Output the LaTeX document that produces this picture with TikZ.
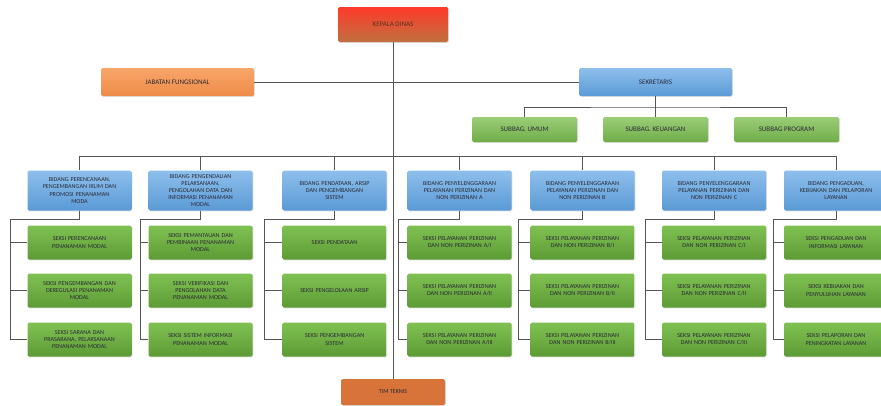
\documentclass[tikz,border=0pt]{standalone}
\usepackage{fontspec}
\setmainfont{Carlito}
\usetikzlibrary{shadows}

\definecolor{kdtop}{HTML}{FF3A2A}
\definecolor{kdbot}{HTML}{C0703F}
\definecolor{jftop}{HTML}{F9A66A}
\definecolor{jfbot}{HTML}{EE8B48}
\definecolor{bltop}{HTML}{8EBFEC}
\definecolor{blbot}{HTML}{5A9AD6}
\definecolor{sgtop}{HTML}{9CCD78}
\definecolor{sgbot}{HTML}{6FAD48}
\definecolor{gntop}{HTML}{80C152}
\definecolor{gnbot}{HTML}{5C9B35}
\definecolor{timfill}{HTML}{D8743A}
\definecolor{linegray}{HTML}{555555}
\definecolor{txtgray}{HTML}{2A2A36}

\tikzset{
  box/.style={rounded corners=1.5pt, align=center, inner sep=1pt,
    text=txtgray, font=\fontsize{6.1}{7.2}\selectfont,
    drop shadow={opacity=0.25, shadow xshift=0.8pt, shadow yshift=-0.8pt}},
  kepala/.style={box, top color=kdtop, bottom color=kdbot,
    minimum width=110pt, minimum height=35pt, text=kdbot!45!black,
    font=\fontsize{7}{8}\selectfont},
  fungsional/.style={box, top color=jftop, bottom color=jfbot,
    minimum width=153pt, minimum height=28pt, font=\fontsize{7}{8}\selectfont},
  sekbox/.style={box, top color=bltop, bottom color=blbot,
    minimum width=153pt, minimum height=28pt, font=\fontsize{7}{8}\selectfont},
  subbag/.style={box, top color=sgtop, bottom color=sgbot,
    minimum width=105pt, minimum height=25pt, font=\fontsize{7}{8}\selectfont},
  bidang/.style={box, top color=bltop, bottom color=blbot,
    minimum width=104pt, minimum height=40pt, text width=100pt},
  seksi/.style={box, top color=gntop, bottom color=gnbot,
    minimum width=104pt, minimum height=34pt, text width=100pt},
  timbox/.style={box, fill=timfill, minimum width=104pt, minimum height=26pt},
  link/.style={draw=linegray, line width=0.7pt}
}

\begin{document}
\begin{tikzpicture}[x=1pt, y=-1pt]
\useasboundingbox[fill=white] (0,0) rectangle (881,405);

% pimpinan
\node[kepala] (kd) at (393, 24.5) {KEPALA DINAS};
\node[fungsional] (jf) at (177.5, 82) {JABATAN FUNGSIONAL};
\node[sekbox] (sek) at (655.5, 82) {SEKRETARIS};

\node[subbag] (su) at (524.5, 129.5) {SUBBAG. UMUM};
\node[subbag] (sk) at (655.5, 129.5) {SUBBAG. KEUANGAN};
\node[subbag] (sp) at (786.5, 129.5) {SUBBAG PROGRAM};

\node[timbox] (tim) at (393, 392) {TIM TEKNIS};

% bidang
\node[bidang] (b1) at (79.5, 190.5) {BIDANG PERENCANAAN,\\PENGEMBANGAN IKLIM DAN\\PROMOSI PENANAMAN\\MODA};
\node[bidang] (b2) at (200.5, 190.5) {BIDANG PENGENDALIAN\\PELAKSANAAN,\\PENGOLAHAN DATA DAN\\INFORMASI PENANAMAN\\MODAL};
\node[bidang] (b3) at (334.5, 190.5) {BIDANG PENDATAAN, ARSIP\\DAN PENGEMBANGAN\\SISTEM};
\node[bidang] (b4) at (459.5, 190.5) {BIDANG PENYELENGGARAAN\\PELAYANAN PERIZINAN DAN\\NON PERIZINAN A};
\node[bidang] (b5) at (582.5, 190.5) {BIDANG PENYELENGGARAAN\\PELAYANAN PERIZINAN DAN\\NON PERIZINAN B};
\node[bidang] (b6) at (714, 190.5) {BIDANG PENYELENGGARAAN\\PELAYANAN PERIZINAN DAN\\NON PERIZINAN C};
\node[bidang] (b7) at (836, 190.5) {BIDANG PENGADUAN,\\KEBIJAKAN DAN PELAPORAN\\LAYANAN};

% seksi
\node[seksi] (s11) at (79.5, 242.5) {SEKSI PERENCANAAN\\PENANAMAN MODAL};
\node[seksi] (s12) at (79.5, 290.5) {SEKSI PENGEMBANGAN DAN\\DEREGULASI PENANAMAN\\MODAL};
\node[seksi] (s13) at (79.5, 339.5) {SEKSI SARANA DAN\\PRASARANA, PELAKSANAAN\\PENANAMAN MODAL};

\node[seksi] (s21) at (200.5, 242.5) {SEKSI PEMANTAUAN DAN\\PEMBINAAN PENANAMAN\\MODAL};
\node[seksi] (s22) at (200.5, 290.5) {SEKSI VERIFIKASI DAN\\PENGOLAHAN DATA\\PENANAMAN MODAL};
\node[seksi] (s23) at (200.5, 339.5) {SEKSI SISTEM INFORMASI\\PENANAMAN MODAL};

\node[seksi] (s31) at (334.5, 242.5) {SEKSI PENDATAAN};
\node[seksi] (s32) at (334.5, 290.5) {SEKSI PENGELOLAAN ARSIP};
\node[seksi] (s33) at (334.5, 339.5) {SEKSI PENGEMBANGAN\\SISTEM};

\node[seksi] (s41) at (459.5, 242.5) {SEKSI PELAYANAN PERIZINAN\\DAN NON PERIZINAN A/I};
\node[seksi] (s42) at (459.5, 290.5) {SEKSI PELAYANAN PERIZINAN\\DAN NON PERIZINAN A/II};
\node[seksi] (s43) at (459.5, 339.5) {SEKSI PELAYANAN PERIZINAN\\DAN NON PERIZINAN A/III};

\node[seksi] (s51) at (582.5, 242.5) {SEKSI PELAYANAN PERIZINAN\\DAN NON PERIZINAN B/I};
\node[seksi] (s52) at (582.5, 290.5) {SEKSI PELAYANAN PERIZINAN\\DAN NON PERIZINAN B/II};
\node[seksi] (s53) at (582.5, 339.5) {SEKSI PELAYANAN PERIZINAN\\DAN NON PERIZINAN B/III};

\node[seksi] (s61) at (714, 242.5) {SEKSI PELAYANAN PERIZINAN\\DAN NON PERIZINAN C/I};
\node[seksi] (s62) at (714, 290.5) {SEKSI PELAYANAN PERIZINAN\\DAN NON PERIZINAN C/II};
\node[seksi] (s63) at (714, 339.5) {SEKSI PELAYANAN PERIZINAN\\DAN NON PERIZINAN C/III};

\node[seksi] (s71) at (836, 242.5) {SEKSI PENGADUAN DAN\\INFORMASI LAYANAN};
\node[seksi] (s72) at (836, 290.5) {SEKSI KEBIJAKAN DAN\\PENYULUHAN LAYANAN};
\node[seksi] (s73) at (836, 339.5) {SEKSI PELAPORAN DAN\\PENINGKATAN LAYANAN};

% garis
\coordinate (bus) at (0, 156);
\coordinate (k1) at (10, 219);
\coordinate (k2) at (140, 219);
\coordinate (k3) at (264, 219);
\coordinate (k4) at (398, 219);
\coordinate (k5) at (518, 219);
\coordinate (k6) at (645, 219);
\coordinate (k7) at (773, 219);

\begin{scope}[on background layer/.try]
\draw[link] (kd.south) -- (tim.north);
\draw[link] (jf.east) -- (sek.west);
\draw[link] (sek.south) -- (sk.north);
\draw[link] (su.north) |- (sek.south |- 0,107) -| (sp.north);

\draw[link] (b1.north) -- (b1.north |- bus) -- (b7.north |- bus) -- (b7.north);
\draw[link] (b2.north) -- (b2.north |- bus);
\draw[link] (b3.north) -- (b3.north |- bus);
\draw[link] (b4.north) -- (b4.north |- bus);
\draw[link] (b5.north) -- (b5.north |- bus);
\draw[link] (b6.north) -- (b6.north |- bus);

\foreach \c in {1,...,7} {
  \draw[link] (b\c.south) |- (k\c) |- (s\c3.west);
  \draw[link] (k\c |- s\c1.west) -- (s\c1.west);
  \draw[link] (k\c |- s\c2.west) -- (s\c2.west);
}
\end{scope}
\end{tikzpicture}
\end{document}
